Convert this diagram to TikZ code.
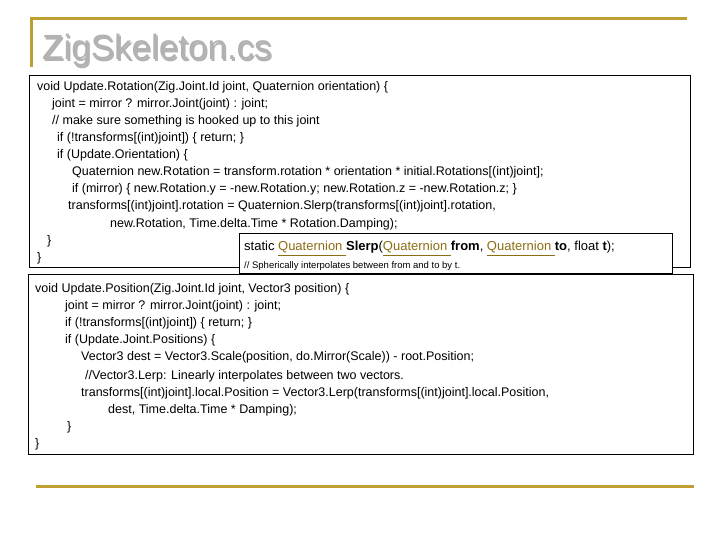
\documentclass[tikz,border=0pt]{standalone}
\usepackage{fontspec}
\setmainfont{Liberation Sans}
\usetikzlibrary{positioning}
\definecolor{gold}{RGB}{190,160,50}
\definecolor{titlegreen}{RGB}{30,100,50}
\definecolor{linkcol}{RGB}{140,110,20}
\tikzstyle{codeline} = [anchor=base west,inner sep=0pt,font=\fontsize{12.5}{14}\selectfont]
\tikzstyle{codebox} = [draw=black,line width=0.8pt]
\tikzstyle{rule} = [draw=gold,line width=3pt]
\newcommand{\qlink}[1]{\textcolor{linkcol}{\underline{#1}}}

\begin{document}
\begin{tikzpicture}[x=1pt,y=-1pt]
	\useasboundingbox (0,0) rectangle (720,540);

	%title and rules
	\draw [rule] (30,19) -- (687,19);
	\draw [rule] (31.5,19) -- (31.5,67);
	\draw [rule] (36,486) -- (694,486);
	\node (title) [anchor=base west,inner sep=0pt,font=\fontsize{35}{38}\selectfont,text=titlegreen] at (42,60) {\pgfsetfillcolor{black!30}\rlap{\kern1.5pt\raisebox{-1.5pt}{ZigSkeleton.cs}}ZigSkeleton.cs};

	%Rotation
	\draw [codebox] (29,75) rectangle (690,267);
	\node (r1) [codeline] at (37,91) {void Update.Rotation(Zig.Joint.Id joint, Quaternion orientation) \{};
	\node (r2) [codeline] at (52,108) {joint = mirror ? mirror.Joint(joint) : joint;};
	\node (r3) [codeline] at (52,125) {// make sure something is hooked up to this joint};
	\node (r4) [codeline] at (57,142) {if (!transforms[(int)joint]) \{ return; \}};
	\node (r5) [codeline] at (57,159) {if (Update.Orientation) \{};
	\node (r6) [codeline] at (72,176) {Quaternion new.Rotation = transform.rotation * orientation * initial.Rotations[(int)joint];};
	\node (r7) [codeline] at (72,193) {if (mirror) \{ new.Rotation.y = -new.Rotation.y; new.Rotation.z = -new.Rotation.z; \}};
	\node (r8) [codeline] at (68,210) {transforms[(int)joint].rotation = Quaternion.Slerp(transforms[(int)joint].rotation,};
	\node (r9) [codeline] at (110,227) {new.Rotation, Time.delta.Time * Rotation.Damping);};
	\node (r10) [codeline] at (47,244) {\}};
	\node (r11) [codeline] at (37,261) {\}};

	%Slerp popup
	\draw [codebox,fill=white] (239,233) rectangle (672,273);
	\node (s1) [codeline,font=\fontsize{13}{14}\selectfont] at (244,251) {static \qlink{Quaternion }\textbf{Slerp}(\qlink{Quaternion }\textbf{from}, \qlink{Quaternion }\textbf{to}, float \textbf{t});};
	\node (s2) [codeline,font=\fontsize{9.5}{10}\selectfont] at (244,268) {// Spherically interpolates between from and to by t.};

	%Position
	\draw [codebox] (28,274) rectangle (693,454);
	\node (p1) [codeline] at (35,292) {void Update.Position(Zig.Joint.Id joint, Vector3 position) \{};
	\node (p2) [codeline] at (65,309) {joint = mirror ? mirror.Joint(joint) : joint;};
	\node (p3) [codeline] at (65,326) {if (!transforms[(int)joint]) \{ return; \}};
	\node (p4) [codeline] at (65,343) {if (Update.Joint.Positions) \{};
	\node (p5) [codeline] at (81,360) {Vector3 dest = Vector3.Scale(position, do.Mirror(Scale)) - root.Position;};
	\node (p6) [codeline] at (85,379) {//Vector3.Lerp: Linearly interpolates between two vectors.};
	\node (p7) [codeline] at (81,396) {transforms[(int)joint].local.Position = Vector3.Lerp(transforms[(int)joint].local.Position,};
	\node (p8) [codeline] at (108,413) {dest, Time.delta.Time * Damping);};
	\node (p9) [codeline] at (67,430) {\}};
	\node (p10) [codeline] at (35,447) {\}};
\end{tikzpicture}
\end{document}
